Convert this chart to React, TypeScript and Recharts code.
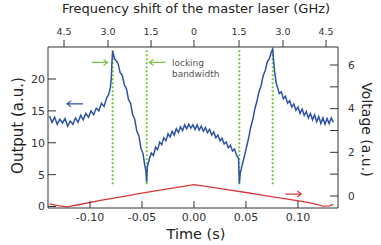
import { LineChart, Line, XAxis, YAxis, ReferenceLine, ReferenceDot, Label } from "recharts";

// blue trace: output (left axis) vs time
const blueTimes = [
  -0.139, -0.1365, -0.134, -0.1315, -0.129, -0.1265, -0.124, -0.1215, -0.119, -0.1165,
  -0.114, -0.1115, -0.109, -0.1065, -0.104, -0.1015, -0.099, -0.0965, -0.094, -0.0915,
  -0.089, -0.0865, -0.084, -0.082, -0.0805, -0.0795, -0.079, -0.0782,
  -0.0765, -0.075, -0.073, -0.071, -0.069, -0.067, -0.065, -0.063, -0.061, -0.059,
  -0.057, -0.055, -0.053, -0.051, -0.049, -0.0475, -0.0462, -0.0455,
  -0.0448, -0.043, -0.041, -0.039, -0.037, -0.035, -0.033, -0.031, -0.029, -0.027,
  -0.025, -0.023, -0.021, -0.019, -0.017, -0.015, -0.013, -0.011, -0.009, -0.007,
  -0.005, -0.003, -0.001, 0.001, 0.003, 0.005, 0.007, 0.009, 0.011, 0.013,
  0.015, 0.017, 0.019, 0.021, 0.023, 0.025, 0.027, 0.029, 0.031, 0.033,
  0.035, 0.037, 0.039, 0.041, 0.0428, 0.0436,
  0.0445, 0.0465, 0.0485, 0.0505, 0.0525, 0.0545, 0.0565, 0.0585, 0.0605, 0.0625,
  0.0645, 0.0665, 0.0685, 0.0705, 0.0725, 0.0745, 0.0757,
  0.0765, 0.0775, 0.079, 0.0805, 0.082, 0.084, 0.086, 0.088, 0.09, 0.092,
  0.094, 0.096, 0.098, 0.1, 0.102, 0.104, 0.106, 0.108, 0.11, 0.112,
  0.114, 0.116, 0.118, 0.12, 0.122, 0.124, 0.126, 0.128, 0.13, 0.132, 0.134,
];
const blueOutput = [
  14.2, 13.2, 14.0, 12.9, 13.7, 13.1, 13.8, 12.6, 13.4, 12.9,
  13.9, 13.2, 14.3, 13.6, 14.6, 14.0, 15.0, 14.4, 15.4, 15.0,
  16.2, 15.7, 17.0, 17.6, 18.6, 20.2, 22.4, 24.4,
  23.2, 22.9, 22.4, 21.0, 20.6, 19.1, 18.5, 16.8, 16.2, 14.4,
  13.7, 11.8, 11.1, 9.1, 8.3, 6.6, 5.5, 3.8,
  6.3, 7.4, 8.4, 8.0, 9.3, 8.9, 10.1, 9.7, 10.8, 10.3,
  11.4, 10.9, 11.8, 11.2, 12.2, 11.6, 12.5, 11.9, 12.8, 12.2,
  12.9, 12.3, 12.8, 12.1, 12.8, 12.0, 12.6, 11.8, 12.4, 11.6,
  12.1, 11.2, 11.7, 10.8, 11.2, 10.3, 10.7, 9.8, 10.1, 9.2,
  9.6, 8.7, 9.0, 8.0, 7.6, 3.6,
  5.2, 6.6, 7.9, 9.3, 10.7, 12.4, 13.6, 15.3, 16.5, 18.0,
  18.9, 20.5, 21.3, 22.7, 23.2, 24.3, 24.7,
  23.0, 21.2, 19.4, 18.6, 17.7, 18.0, 16.9, 17.3, 16.2, 16.6,
  15.6, 16.1, 15.1, 15.6, 14.6, 15.3, 14.3, 14.9, 13.9, 14.6,
  13.6, 14.4, 13.3, 14.1, 13.0, 13.9, 12.9, 13.8, 13.0, 13.9, 13.2,
];

// red trace: voltage (right axis) vs time
const redTimes = [-0.139, -0.131, -0.122, -0.11, -0.09, -0.07, -0.05, -0.03, -0.01, 0, 0.01, 0.03, 0.05, 0.07, 0.09, 0.105, 0.115, 0.124, 0.13, 0.134];
const redVoltage = [-0.36, -0.44, -0.5, -0.39, -0.2, -0.04, 0.13, 0.29, 0.44, 0.52, 0.45, 0.3, 0.16, 0.01, -0.14, -0.26, -0.35, -0.46, -0.45, -0.38];

const timeTicks = [-0.1, -0.05, 0, 0.05, 0.1];
const outputTicks = [0, 5, 10, 15, 20];
const voltageTicks = [0, 1, 2, 3, 4, 5, 6];
const freqTickTimes = [-0.125, -0.0827, -0.0413, 0, 0.0433, 0.0856, 0.127];
const freqTickLabels = ["4.5", "3.0", "1.5", "0", "1.5", "3.0", "4.5"];

// locking edges (green dotted lines), in seconds
const lockingEdges = [-0.0782, -0.0455, 0.0436, 0.0757];
const lockingSpan = [3.5, 24.7];

const blueData = blueTimes.map((t, i) => ({ t, v: blueOutput[i] }));
const redData = redTimes.map((t, i) => ({ t, v: redVoltage[i] }));

const AXIS = "#333";
const BLUE = "#2e52a4";
const RED = "#d9383a";
const GREEN = "#7cc242";
const FONT = "DejaVu Sans";

function LeftTick(props: any) {
  const { x, y, payload } = props;
  return (
    <g>
      <line x1={x + 3} x2={x + 11} y1={y} y2={y} stroke={AXIS} />
      <text x={x} y={y} dy="0.36em" textAnchor="end" fontSize={11} fill={AXIS} fontFamily={FONT}>
        {payload.value}
      </text>
    </g>
  );
}

function RightTick(props: any) {
  const { x, y, payload } = props;
  return (
    <g>
      <line x1={x - 10} x2={x - 18} y1={y} y2={y} stroke={AXIS} />
      {payload.value % 2 === 0 && (
        <text x={x} y={y} dy="0.36em" textAnchor="start" fontSize={10.5} fill={AXIS} fontFamily={FONT}>
          {payload.value}
        </text>
      )}
    </g>
  );
}

function BottomTick(props: any) {
  const { x, y, payload } = props;
  return (
    <g>
      <line x1={x} x2={x} y1={y - 5} y2={y - 12} stroke={AXIS} />
      <text x={x} y={y} dy="0.73em" textAnchor="middle" fontSize={11} fill={AXIS} fontFamily={FONT}>
        {payload.value.toFixed(2)}
      </text>
    </g>
  );
}

function Arrow(dir: number, color: string) {
  return (props: any) => {
    const { cx, cy } = props;
    const tip = cx + dir * 8;
    return (
      <path
        d={`M${cx - dir * 8},${cy}L${tip},${cy}M${tip - dir * 4},${cy - 3}L${tip},${cy}L${tip - dir * 4},${cy + 3}`}
        stroke={color}
        strokeWidth={1.2}
        fill="none"
      />
    );
  };
}

function LockingText(props: any) {
  const { cx, cy } = props;
  return (
    <text x={cx} y={cy} fontSize={9} fill="#555" fontFamily={FONT}>
      <tspan x={cx}>locking</tspan>
      <tspan x={cx} dy={11}>bandwidth</tspan>
    </text>
  );
}

export default function App() {
  return (
    <div style={{ position: "absolute", left: 0, top: 0, background: "#fff" }}>
      <LineChart width={381} height={245} margin={{ top: 0, right: 0, bottom: 0, left: 0 }} style={{ fontFamily: FONT }}>
        <XAxis
          xAxisId="time"
          dataKey="t"
          type="number"
          domain={[-0.1404, 0.1385]}
          allowDataOverflow
          ticks={timeTicks}
          interval={0}
          height={37}
          tickSize={0}
          tickMargin={5}
          tick={<BottomTick />}
          axisLine={{ stroke: AXIS }}
          tickLine={false}
        >
          <Label
            content={(p: any) => (
              <text x={p.viewBox.x + p.viewBox.width / 2 + 3} y={239} textAnchor="middle" fontSize={14.5} fill="#222" fontFamily={FONT}>
                Time (s)
              </text>
            )}
          />
        </XAxis>
        <XAxis
          xAxisId="top"
          orientation="top"
          dataKey="t"
          type="number"
          domain={[-0.1404, 0.1385]}
          allowDataOverflow
          ticks={freqTickTimes}
          interval={0}
          height={47}
          tickSize={7}
          tickMargin={5}
          tickFormatter={(_v: number, i: number) => freqTickLabels[i]}
          tick={{ fontSize: 9.5, fill: AXIS, fontFamily: FONT }}
          axisLine={{ stroke: AXIS }}
          tickLine={{ stroke: AXIS }}
        >
          <Label
            content={(p: any) => (
              <text x={p.viewBox.x + p.viewBox.width / 2 + 3} y={13} textAnchor="middle" fontSize={13} fill="#222" fontFamily={FONT}>
                Frequency shift of the master laser (GHz)
              </text>
            )}
          />
        </XAxis>
        <YAxis
          yAxisId="out"
          type="number"
          domain={[-0.235, 25.02]}
          allowDataOverflow
          ticks={outputTicks}
          interval={0}
          width={48}
          tickSize={0}
          tickMargin={3}
          tick={<LeftTick />}
          axisLine={{ stroke: AXIS }}
          tickLine={false}
        >
          <Label
            content={(p: any) => (
              <text
                transform={`translate(${p.viewBox.x + 23},${p.viewBox.y + p.viewBox.height / 2 - 2}) rotate(-90)`}
                textAnchor="middle"
                fontSize={15}
                fill="#222"
                fontFamily={FONT}
              >
                Output (a.u.)
              </text>
            )}
          />
        </YAxis>
        <YAxis
          yAxisId="volt"
          orientation="right"
          type="number"
          domain={[-0.55, 6.825]}
          allowDataOverflow
          ticks={voltageTicks}
          interval={0}
          width={43}
          tickSize={0}
          tickMargin={10}
          tick={<RightTick />}
          axisLine={{ stroke: AXIS }}
          tickLine={false}
        >
          <Label
            content={(p: any) => (
              <text
                transform={`translate(${p.viewBox.x + 24},${p.viewBox.y + p.viewBox.height / 2 + 2}) rotate(90)`}
                textAnchor="middle"
                fontSize={14}
                fill="#222"
                fontFamily={FONT}
              >
                Voltage (a.u.)
              </text>
            )}
          />
        </YAxis>

        {lockingEdges.map((t) => (
          <ReferenceLine
            key={t}
            xAxisId="time"
            yAxisId="out"
            segment={[{ x: t, y: lockingSpan[0] }, { x: t, y: lockingSpan[1] }]}
            stroke={GREEN}
            strokeWidth={2}
            strokeDasharray="2 2"
          />
        ))}

        <Line
          xAxisId="time"
          yAxisId="out"
          data={blueData}
          dataKey="v"
          stroke={BLUE}
          strokeWidth={1.5}
          dot={false}
          isAnimationActive={false}
        />
        <Line
          xAxisId="time"
          yAxisId="volt"
          data={redData}
          dataKey="v"
          stroke={RED}
          strokeWidth={1.3}
          dot={false}
          isAnimationActive={false}
        />

        <ReferenceDot xAxisId="time" yAxisId="out" x={-0.0909} y={22.6} shape={Arrow(1, GREEN)} />
        <ReferenceDot xAxisId="time" yAxisId="out" x={-0.0351} y={22.6} shape={Arrow(-1, GREEN)} />
        <ReferenceDot xAxisId="time" yAxisId="out" x={-0.0212} y={22.0} shape={<LockingText />} />
        <ReferenceDot xAxisId="time" yAxisId="out" x={-0.1144} y={16.1} shape={Arrow(-1, BLUE)} />
        <ReferenceDot xAxisId="time" yAxisId="volt" x={0.0955} y={0.09} shape={Arrow(1, RED)} />
      </LineChart>
    </div>
  );
}
